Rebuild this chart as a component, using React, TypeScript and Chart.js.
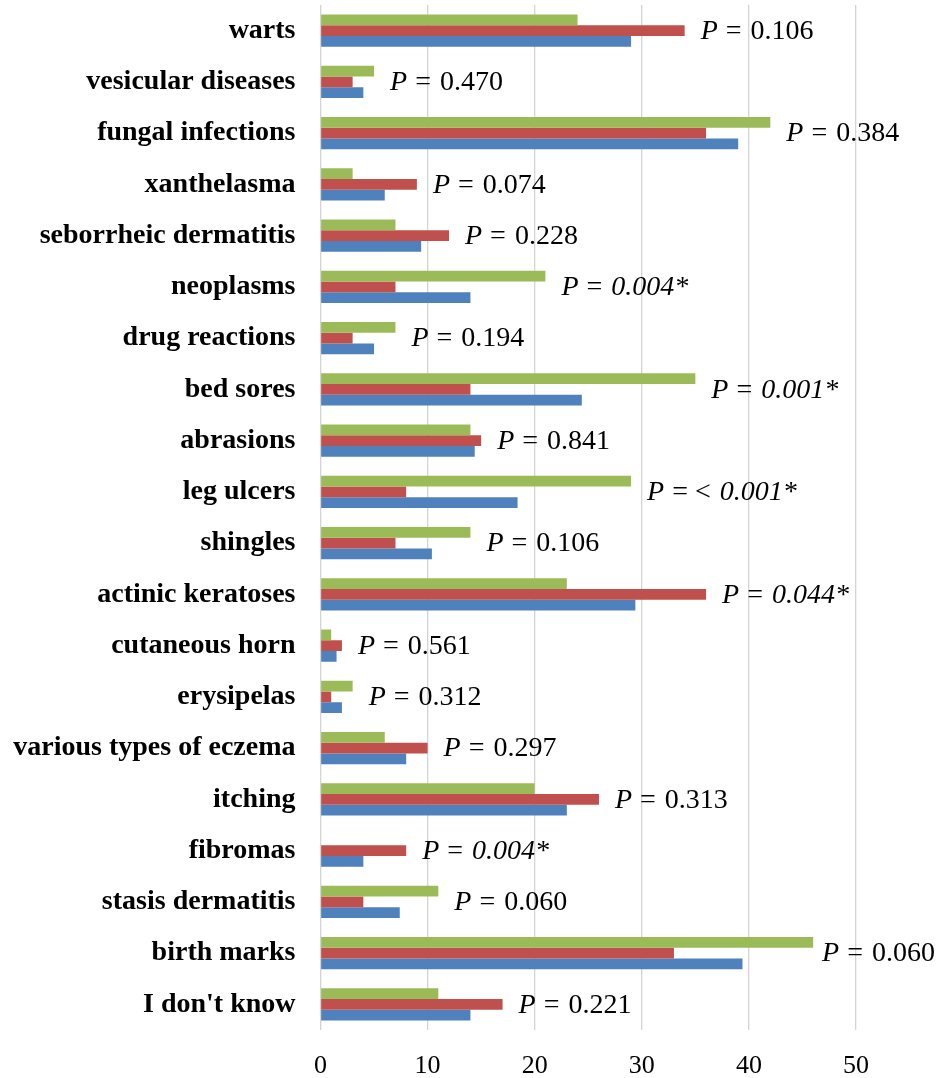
import React, { useEffect, useRef } from "react";
import { Chart, registerables } from "chart.js";

Chart.register(...registerables);

const categories = [
  "warts",
  "vesicular diseases",
  "fungal infections",
  "xanthelasma",
  "seborrheic dermatitis",
  "neoplasms",
  "drug reactions",
  "bed sores",
  "abrasions",
  "leg ulcers",
  "shingles",
  "actinic keratoses",
  "cutaneous horn",
  "erysipelas",
  "various types of eczema",
  "itching",
  "fibromas",
  "stasis dermatitis",
  "birth marks",
  "I don't know",
];

const greenValues = [24, 5, 42, 3, 7, 21, 7, 35, 14, 29, 14, 23, 1, 3, 6, 20, 0, 11, 46, 11];
const redValues = [34, 3, 36, 9, 12, 7, 3, 14, 15, 8, 7, 36, 2, 1, 10, 26, 8, 4, 33, 17];
const blueValues = [29, 4, 39, 6, 9.4, 14, 5, 24.4, 14.4, 18.4, 10.4, 29.4, 1.5, 2, 8, 23, 4, 7.4, 39.4, 14];

// P-value labels: text after "P", value, significant
const pPrefix = ["= ", "= ", "= ", "= ", "= ", "= ", "= ", "= ", "= ", "= < ", "= ", "= ", "= ", "= ", "= ", "= ", "= ", "= ", "= ", "= "];
const pValues = [
  "0.106", "0.470", "0.384", "0.074", "0.228", "0.004*", "0.194", "0.001*", "0.841", "0.001*",
  "0.106", "0.044*", "0.561", "0.312", "0.297", "0.313", "0.004*", "0.060", "0.060", "0.221",
];
const pSignificant = [false, false, false, false, false, true, false, true, false, true, false, true, false, false, false, false, true, false, false, false];

const xTicks = [0, 10, 20, 30, 40, 50];

const SERIF = "'Liberation Serif', 'Times New Roman', serif";

const pLabelPlugin = {
  id: "pLabels",
  afterDatasetsDraw(chart: any) {
    const ctx = chart.ctx;
    const xScale = chart.scales.x;
    const yScale = chart.scales.y;
    ctx.save();
    ctx.fillStyle = "#000";
    ctx.textBaseline = "middle";
    ctx.textAlign = "left";
    categories.forEach((_, i) => {
      const maxVal = Math.max(greenValues[i], redValues[i], blueValues[i]);
      const fItalic = `italic 28px ${SERIF}`;
      const fRegular = `28px ${SERIF}`;
      const fValue = `${pSignificant[i] ? "italic " : ""}28px ${SERIF}`;
      ctx.font = fItalic;
      const wP = ctx.measureText("P").width;
      ctx.font = fRegular;
      const wPre = ctx.measureText(pPrefix[i]).width;
      ctx.font = fValue;
      const wVal = ctx.measureText(pValues[i]).width;
      const total = wP + 8 + wPre + 2 + wVal;
      let x = xScale.getPixelForValue(maxVal) + 16;
      x = Math.min(x, chart.width - total - 4);
      const y = yScale.getPixelForValue(i) + 1;
      ctx.font = fItalic;
      ctx.fillText("P", x, y);
      x += wP + 8;
      ctx.font = fRegular;
      ctx.fillText(pPrefix[i], x, y);
      x += wPre + 2;
      ctx.font = fValue;
      ctx.fillText(pValues[i], x, y);
    });
    ctx.restore();
  },
};

export default function App() {
  const canvasRef = useRef<HTMLCanvasElement | null>(null);

  useEffect(() => {
    if (!canvasRef.current) return;
    const chart = new Chart(canvasRef.current, {
      type: "bar",
      data: {
        labels: categories,
        datasets: [
          { label: "green", data: greenValues, backgroundColor: "#9BBB59", categoryPercentage: 0.63, barPercentage: 1 },
          { label: "red", data: redValues, backgroundColor: "#C0504D", categoryPercentage: 0.63, barPercentage: 1 },
          { label: "blue", data: blueValues, backgroundColor: "#4F81BD", categoryPercentage: 0.63, barPercentage: 1 },
        ],
      },
      options: {
        indexAxis: "y",
        animation: false,
        responsive: false,
        maintainAspectRatio: false,
        devicePixelRatio: 1,
        layout: { padding: { top: 5, right: 83, left: 0, bottom: 0 } },
        plugins: {
          legend: { display: false },
          tooltip: { enabled: false },
        },
        scales: {
          x: {
            min: 0,
            max: 50,
            afterBuildTicks: (scale: any) => {
              scale.ticks = xTicks.map((v) => ({ value: v }));
            },
            afterFit: (scale: any) => {
              scale.height = 48;
              scale.paddingLeft = 0;
              scale.paddingRight = 0;
            },
            grid: { color: "#d4d4d4", lineWidth: 1.3, drawTicks: false },
            border: { display: false },
            ticks: {
              color: "#000",
              padding: 21,
              font: { family: SERIF, size: 26 },
            },
          },
          y: {
            afterFit: (scale: any) => {
              scale.width = 320.5;
              scale.paddingTop = 0;
              scale.paddingBottom = 0;
            },
            grid: { display: false, drawTicks: false },
            border: { display: false },
            ticks: {
              color: "#000",
              padding: 25,
              autoSkip: false,
              font: { family: SERIF, size: 28, weight: "bold" },
            },
          },
        },
      },
      plugins: [pLabelPlugin],
    });
    return () => chart.destroy();
  }, []);

  return (
    <div style={{ position: "absolute", left: 0, top: 0, width: 939, height: 1078, background: "#fff" }}>
      <canvas ref={canvasRef} width={939} height={1078} style={{ width: 939, height: 1078 }} />
    </div>
  );
}
